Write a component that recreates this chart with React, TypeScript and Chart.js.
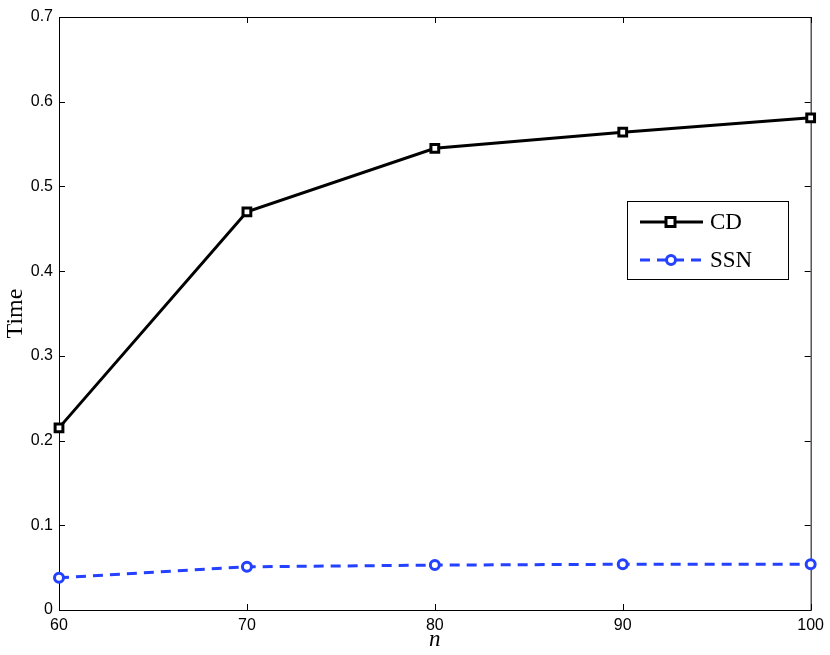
import React, { useEffect, useRef } from "react";
import { Chart, registerables } from "chart.js";

Chart.register(...registerables);

const nValues = [60, 70, 80, 90, 100];
const cdTimes = [0.215, 0.470, 0.545, 0.564, 0.581];
const ssnTimes = [0.038, 0.051, 0.053, 0.054, 0.054];
const xTicks = [60, 70, 80, 90, 100];
const yTicks = [0, 0.1, 0.2, 0.3, 0.4, 0.5, 0.6, 0.7];
const seriesNames = ["CD", "SSN"];

const BLUE = "rgb(35,65,255)";

const framePlugin = {
  id: "frame",
  beforeDatasetsDraw(chart: any) {
    const { ctx, chartArea: a, scales } = chart;
    ctx.save();
    ctx.strokeStyle = "#000";
    ctx.lineWidth = 1;
    ctx.strokeRect(a.left + 0.5, a.top + 0.5, a.right - a.left, a.bottom - a.top);
    const tl = 6;
    ctx.beginPath();
    xTicks.forEach((v) => {
      const x = Math.round(scales.x.getPixelForValue(v)) + 0.5;
      ctx.moveTo(x, a.bottom);
      ctx.lineTo(x, a.bottom - tl);
      ctx.moveTo(x, a.top);
      ctx.lineTo(x, a.top + tl);
    });
    yTicks.forEach((v) => {
      const y = Math.round(scales.y.getPixelForValue(v)) + 0.5;
      ctx.moveTo(a.left, y);
      ctx.lineTo(a.left + tl, y);
      ctx.moveTo(a.right, y);
      ctx.lineTo(a.right - tl, y);
    });
    ctx.stroke();
    ctx.restore();
  },
  afterDraw(chart: any) {
    const { ctx, chartArea: a } = chart;
    ctx.save();
    // axis titles
    ctx.fillStyle = "#000";
    ctx.font = "italic 23px 'Liberation Serif', serif";
    ctx.textAlign = "center";
    ctx.textBaseline = "middle";
    ctx.fillText("n", (a.left + a.right) / 2, 640);
    ctx.save();
    ctx.translate(16, (a.top + a.bottom) / 2);
    ctx.rotate(-Math.PI / 2);
    ctx.font = "24px 'Liberation Serif', serif";
    ctx.fillText("Time", 0, 0);
    ctx.restore();

    // legend
    const bx = 627, by = 201, bw = 161, bh = 78;
    ctx.fillStyle = "#fff";
    ctx.fillRect(bx, by, bw, bh);
    ctx.strokeStyle = "#000";
    ctx.lineWidth = 1;
    ctx.strokeRect(bx + 0.5, by + 0.5, bw, bh);
    const rows = [222, 260];
    // CD
    ctx.lineWidth = 3;
    ctx.strokeStyle = "#000";
    ctx.setLineDash([]);
    ctx.beginPath();
    ctx.moveTo(640, rows[0]);
    ctx.lineTo(703, rows[0]);
    ctx.stroke();
    ctx.fillStyle = "#fff";
    ctx.fillRect(666, rows[0] - 4.5, 9, 9);
    ctx.strokeRect(666, rows[0] - 4.5, 9, 9);
    // SSN
    ctx.strokeStyle = BLUE;
    ctx.lineWidth = 3;
    ctx.setLineDash([10, 7]);
    ctx.beginPath();
    ctx.moveTo(640, rows[1]);
    ctx.lineTo(703, rows[1]);
    ctx.stroke();
    ctx.setLineDash([]);
    ctx.beginPath();
    ctx.arc(671, rows[1], 4.5, 0, Math.PI * 2);
    ctx.fillStyle = "#fff";
    ctx.fill();
    ctx.stroke();
    ctx.fillStyle = "#000";
    ctx.font = "23px 'Liberation Serif', serif";
    ctx.textAlign = "left";
    ctx.fillText(seriesNames[0], 710, rows[0] + 1);
    ctx.fillText(seriesNames[1], 710, rows[1] + 1);
    ctx.restore();
  },
};

export default function App() {
  const ref = useRef<HTMLCanvasElement>(null);
  useEffect(() => {
    document.body.style.margin = "0";
    const chart = new Chart(ref.current!, {
      type: "line",
      data: {
        labels: nValues,
        datasets: [
          {
            label: seriesNames[0],
            data: nValues.map((x, i) => ({ x, y: cdTimes[i] })),
            borderColor: "#000",
            borderWidth: 3,
            pointStyle: "rect",
            pointRadius: 5.5,
            pointBorderWidth: 3,
            pointBackgroundColor: "#fff",
            pointBorderColor: "#000",
            tension: 0,
            clip: false,
          },
          {
            label: seriesNames[1],
            data: nValues.map((x, i) => ({ x, y: ssnTimes[i] })),
            borderColor: BLUE,
            borderWidth: 3,
            borderDash: [10, 7],
            pointStyle: "circle",
            pointRadius: 4.5,
            pointBorderWidth: 3,
            pointBackgroundColor: "#fff",
            pointBorderColor: BLUE,
            tension: 0,
            clip: false,
          },
        ],
      },
      options: {
        animation: false,
        responsive: false,
        maintainAspectRatio: false,
        layout: { padding: { top: 17, right: 19, left: 0, bottom: 0 } },
        plugins: { legend: { display: false }, tooltip: { enabled: false } },
        scales: {
          x: {
            type: "linear",
            min: 60,
            max: 100,
            afterBuildTicks: (s: any) => {
              s.ticks = xTicks.map((v) => ({ value: v }));
            },
            afterFit: (s: any) => {
              s.height = 45;
            },
            grid: { display: false, drawTicks: false },
            border: { display: false },
            ticks: {
              color: "#000",
              padding: 6,
              maxRotation: 0,
              font: { family: "'Liberation Sans', Arial, sans-serif", size: 16 },
              callback: (v: any) => String(v),
            },
          },
          y: {
            type: "linear",
            min: 0,
            max: 0.7,
            afterBuildTicks: (s: any) => {
              s.ticks = yTicks.map((v) => ({ value: v }));
            },
            afterFit: (s: any) => {
              s.width = 59;
            },
            grid: { display: false, drawTicks: false },
            border: { display: false },
            ticks: {
              color: "#000",
              padding: 6,
              font: { family: "'Liberation Sans', Arial, sans-serif", size: 16 },
              callback: (v: any) => (v === 0 ? "0" : Number(v).toFixed(1)),
            },
          },
        },
      },
      plugins: [framePlugin],
    });
    return () => chart.destroy();
  }, []);
  return (
    <div style={{ position: "absolute", left: 0, top: 0, width: 830, height: 655, background: "#fff" }}>
      <canvas ref={ref} width={830} height={655} style={{ width: 830, height: 655 }} />
    </div>
  );
}
